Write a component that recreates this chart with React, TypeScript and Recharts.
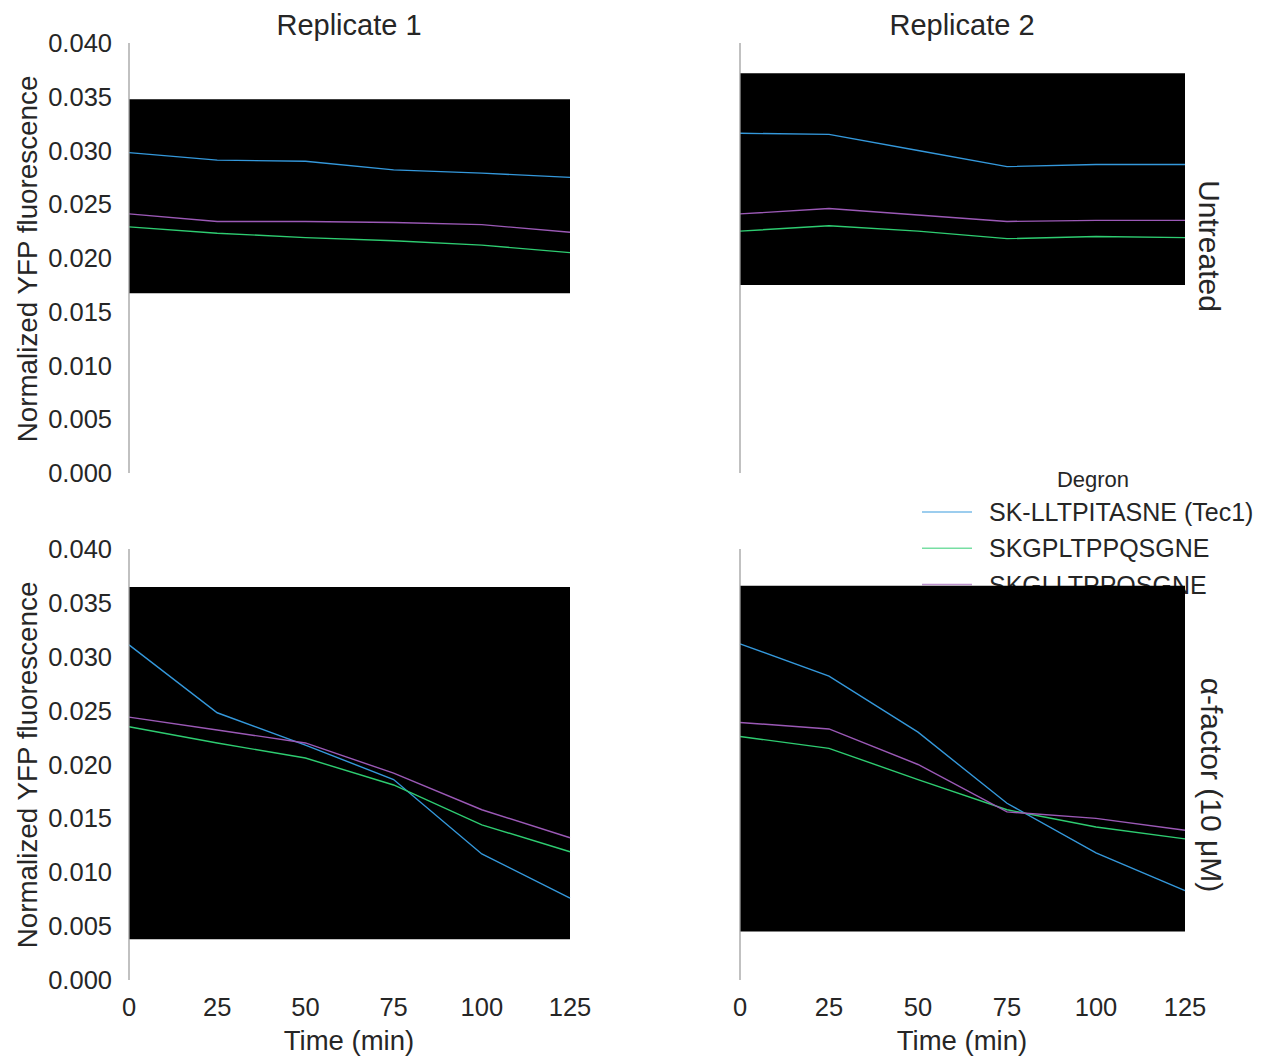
import React from 'react';
import { LineChart, Line, XAxis, YAxis, ReferenceArea } from 'recharts';

// ---------- data ----------
const times = [0, 25, 50, 75, 100, 125];
const xTicks = [0, 25, 50, 75, 100, 125];
const yTicks = [0, 0.005, 0.01, 0.015, 0.02, 0.025, 0.03, 0.035, 0.04];
const degrons = ['SK-LLTPITASNE (Tec1)', 'SKGPLTPPQSGNE', 'SKGLLTPPQSGNE'];
const degronColors = ['#3498db', '#2ecc71', '#9b59b6'];
const replicates = ['Replicate 1', 'Replicate 2'];
const treatments = ['Untreated', 'α-factor (10 μM)'];

// Untreated, replicate 1
const untreatedRep1Tec1 = [0.0298, 0.0291, 0.0290, 0.0282, 0.0279, 0.0275];
const untreatedRep1Gpl = [0.0229, 0.0223, 0.0219, 0.0216, 0.0212, 0.0205];
const untreatedRep1Gll = [0.0241, 0.0234, 0.0234, 0.0233, 0.0231, 0.0224];
const untreatedRep1Band = [0.01672, 0.03477];

// Untreated, replicate 2
const untreatedRep2Tec1 = [0.0316, 0.0315, 0.0300, 0.0285, 0.0287, 0.0287];
const untreatedRep2Gpl = [0.0225, 0.0230, 0.0225, 0.0218, 0.0220, 0.0219];
const untreatedRep2Gll = [0.0241, 0.0246, 0.0240, 0.0234, 0.0235, 0.0235];
const untreatedRep2Band = [0.01749, 0.03718];

// alpha-factor, replicate 1
const alphaRep1Tec1 = [0.0311, 0.0248, 0.0218, 0.0186, 0.0117, 0.0076];
const alphaRep1Gpl = [0.0235, 0.0220, 0.0206, 0.0181, 0.0144, 0.0119];
const alphaRep1Gll = [0.0244, 0.0232, 0.0220, 0.0192, 0.0158, 0.0132];
const alphaRep1Band = [0.00379, 0.03648];

// alpha-factor, replicate 2
const alphaRep2Tec1 = [0.0312, 0.0282, 0.0230, 0.0164, 0.0118, 0.0083];
const alphaRep2Gpl = [0.0226, 0.0215, 0.0186, 0.0158, 0.0142, 0.0131];
const alphaRep2Gll = [0.0239, 0.0233, 0.0200, 0.0156, 0.0150, 0.0139];
const alphaRep2Band = [0.0045, 0.0366];

const seriesKeys = ['tec1', 'gpl', 'gll'];

function buildRows(a: number[], b: number[], c: number[]) {
  return times.map((t, i) => ({ time: t, tec1: a[i], gpl: b[i], gll: c[i] }));
}

const FONT = '"Liberation Sans", Arial, Helvetica, sans-serif';
const TEXT = '#262626';
const SPINE = '#a0a0a0';

type PanelProps = {
  rows: any[];
  band: number[];
  left: number;
  top: number;
  width: number;
  height: number;
  margin: { top: number; right: number; bottom: number; left: number };
  showYTicks: boolean;
  showXTicks: boolean;
  yAxisWidth: number;
  xAxisHeight: number;
};

function Panel(p: PanelProps) {
  return (
    <div style={{ position: 'absolute', left: p.left, top: p.top, width: p.width, height: p.height }}>
      <LineChart width={p.width} height={p.height} data={p.rows} margin={p.margin}>
        <ReferenceArea
          x1={0}
          x2={125}
          y1={p.band[0]}
          y2={p.band[1]}
          fill="#000000"
          fillOpacity={1}
          stroke="none"
        />
        <XAxis
          dataKey="time"
          type="number"
          domain={[0, 125]}
          ticks={xTicks}
          interval={0}
          hide={!p.showXTicks}
          height={p.xAxisHeight}
          axisLine={false}
          tickLine={false}
          tickSize={0}
          tickMargin={18}
          tick={{ fontSize: 25.5, fill: TEXT, fontFamily: FONT }}
        />
        <YAxis
          type="number"
          domain={[0, 0.04]}
          ticks={yTicks}
          interval={0}
          width={p.yAxisWidth}
          axisLine={{ stroke: SPINE, strokeWidth: 1.3 }}
          tickLine={false}
          tickSize={0}
          tickMargin={17}
          tick={p.showYTicks ? { fontSize: 25.5, fill: TEXT, fontFamily: FONT } : false}
          tickFormatter={(v: number) => v.toFixed(3)}
        />
        {seriesKeys.map((k, i) => (
          <Line
            key={k}
            type="linear"
            dataKey={k}
            name={degrons[i]}
            stroke={degronColors[i]}
            strokeWidth={1.4}
            dot={false}
            activeDot={false}
            isAnimationActive={false}
          />
        ))}
      </LineChart>
    </div>
  );
}

export default function App() {
  const topMargin = { top: 43, right: 30, bottom: 37, left: 0 };
  const botMargin = { top: 49, right: 30, bottom: 0, left: 0 };
  return (
    <div
      style={{
        position: 'absolute',
        left: 0,
        top: 0,
        width: 1273,
        height: 1057,
        background: '#ffffff',
        fontFamily: FONT,
        overflow: 'hidden',
      }}
    >
      {/* annotations and legend (under the panels) */}
      <svg width={1273} height={1057} style={{ position: 'absolute', left: 0, top: 0 }}>
        <text x={349} y={25} textAnchor="middle" dominantBaseline="central" fontSize={29} fill={TEXT} fontFamily={FONT}>
          {replicates[0]}
        </text>
        <text x={962} y={25} textAnchor="middle" dominantBaseline="central" fontSize={29} fill={TEXT} fontFamily={FONT}>
          {replicates[1]}
        </text>
        <text
          transform="translate(1209,246) rotate(90)"
          textAnchor="middle"
          dominantBaseline="central"
          fontSize={30}
          fill={TEXT}
          fontFamily={FONT}
        >
          {treatments[0]}
        </text>
        <text
          transform="translate(1211,785) rotate(90)"
          textAnchor="middle"
          dominantBaseline="central"
          fontSize={30}
          fill={TEXT}
          fontFamily={FONT}
        >
          {treatments[1]}
        </text>
        <text
          transform="translate(27,259) rotate(-90)"
          textAnchor="middle"
          dominantBaseline="central"
          fontSize={27.8}
          fill={TEXT}
          fontFamily={FONT}
        >
          Normalized YFP fluorescence
        </text>
        <text
          transform="translate(27,765) rotate(-90)"
          textAnchor="middle"
          dominantBaseline="central"
          fontSize={27.8}
          fill={TEXT}
          fontFamily={FONT}
        >
          Normalized YFP fluorescence
        </text>
        <text x={349} y={1040} textAnchor="middle" dominantBaseline="central" fontSize={27.5} fill={TEXT} fontFamily={FONT}>
          Time (min)
        </text>
        <text x={962} y={1040} textAnchor="middle" dominantBaseline="central" fontSize={27.5} fill={TEXT} fontFamily={FONT}>
          Time (min)
        </text>
        {/* legend */}
        <text x={1093} y={479} textAnchor="middle" dominantBaseline="central" fontSize={22} fill={TEXT} fontFamily={FONT}>
          Degron
        </text>
        {degrons.map((d, i) => {
          const y = 512 + i * 36.3;
          return (
            <g key={d}>
              <line x1={922} x2={972} y1={y} y2={y} stroke={degronColors[i]} strokeOpacity={0.65} strokeWidth={1.5} />
              <text x={989} y={y} dominantBaseline="central" fontSize={25} fill={TEXT} fontFamily={FONT}>
                {d}
              </text>
            </g>
          );
        })}
      </svg>

      <Panel
        rows={buildRows(untreatedRep1Tec1, untreatedRep1Gpl, untreatedRep1Gll)}
        band={untreatedRep1Band}
        left={0}
        top={0}
        width={600}
        height={510}
        margin={topMargin}
        showYTicks={true}
        showXTicks={false}
        yAxisWidth={129}
        xAxisHeight={0}
      />
      <Panel
        rows={buildRows(untreatedRep2Tec1, untreatedRep2Gpl, untreatedRep2Gll)}
        band={untreatedRep2Band}
        left={730}
        top={0}
        width={485}
        height={510}
        margin={topMargin}
        showYTicks={false}
        showXTicks={false}
        yAxisWidth={10}
        xAxisHeight={0}
      />
      <Panel
        rows={buildRows(alphaRep1Tec1, alphaRep1Gpl, alphaRep1Gll)}
        band={alphaRep1Band}
        left={0}
        top={500}
        width={600}
        height={557}
        margin={botMargin}
        showYTicks={true}
        showXTicks={true}
        yAxisWidth={129}
        xAxisHeight={77}
      />
      <Panel
        rows={buildRows(alphaRep2Tec1, alphaRep2Gpl, alphaRep2Gll)}
        band={alphaRep2Band}
        left={730}
        top={500}
        width={485}
        height={557}
        margin={botMargin}
        showYTicks={false}
        showXTicks={true}
        yAxisWidth={10}
        xAxisHeight={77}
      />
    </div>
  );
}
